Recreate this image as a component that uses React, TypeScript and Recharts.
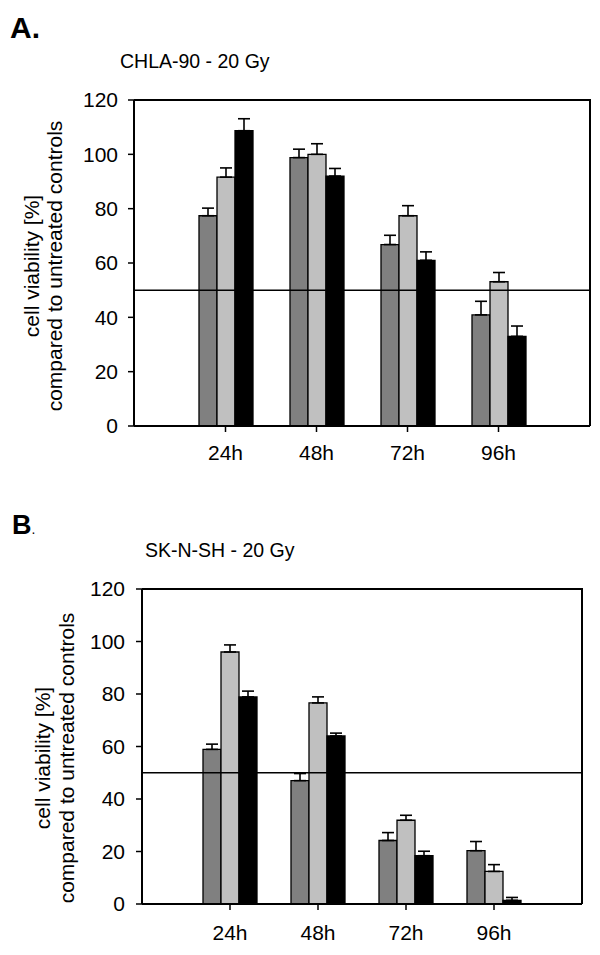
import React from "react";
import { BarChart, Bar, XAxis, YAxis, ErrorBar, ReferenceLine, Label, usePlotArea } from "recharts";

const FONT = '"Liberation Sans", Arial, sans-serif';

const categories = ["24h", "48h", "72h", "96h"];
const yTicks = [0, 20, 40, 60, 80, 100, 120];

// panel A - CHLA-90
const chlaDark = [77.4, 98.8, 66.8, 40.9];
const chlaDarkErr = [2.8, 3.1, 3.4, 5.0];
const chlaLight = [91.6, 100.0, 77.4, 53.1];
const chlaLightErr = [3.4, 3.9, 3.7, 3.4];
const chlaBlack = [108.7, 92.0, 61.0, 33.0];
const chlaBlackErr = [4.4, 2.8, 3.1, 3.8];

// panel B - SK-N-SH
const sknDark = [58.9, 47.0, 24.2, 20.3];
const sknDarkErr = [2.0, 2.7, 3.0, 3.5];
const sknLight = [96.0, 76.6, 31.9, 12.4];
const sknLightErr = [2.7, 2.3, 1.9, 2.6];
const sknBlack = [78.9, 64.0, 18.4, 1.4];
const sknBlackErr = [2.2, 1.1, 1.7, 1.1];

function buildRows(dark: number[], darkErr: number[], light: number[], lightErr: number[], black: number[], blackErr: number[]) {
  return categories.map((time, i) => ({
    time,
    dark: dark[i],
    darkErr: [0, darkErr[i]],
    light: light[i],
    lightErr: [0, lightErr[i]],
    black: black[i],
    blackErr: [0, blackErr[i]],
  }));
}

const rowsA = buildRows(chlaDark, chlaDarkErr, chlaLight, chlaLightErr, chlaBlack, chlaBlackErr);
const rowsB = buildRows(sknDark, sknDarkErr, sknLight, sknLightErr, sknBlack, sknBlackErr);

interface PanelProps {
  data: any[];
  top: number;
  height: number;
  margin: { top: number; right: number; bottom: number; left: number };
  pad: number;
  tickMarginX: number;
  tickMarginY: number;
  labelX1: number;
  labelX2: number;
  labelCY: number;
}

function YLabel({ x1, x2, cy }: { x1: number; x2: number; cy: number }) {
  const style = { fontFamily: FONT, fontSize: 21, fill: "#000" };
  return (
    <g>
      <text x={x1} y={cy} transform={`rotate(-90 ${x1} ${cy})`} textAnchor="middle" style={style}>
        cell viability [%]
      </text>
      <text x={x2} y={cy} transform={`rotate(-90 ${x2} ${cy})`} textAnchor="middle" style={style}>
        compared to untreated controls
      </text>
    </g>
  );
}

// top and right edges of the plot frame
function Frame() {
  const area = usePlotArea();
  if (!area) return null;
  const { x, y, width, height } = area;
  return (
    <path
      d={`M${x},${y} L${x + width},${y} L${x + width},${y + height}`}
      fill="none"
      stroke="#000"
      strokeWidth={2}
    />
  );
}

function Panel({ data, top, height, margin, pad, tickMarginX, tickMarginY, labelX1, labelX2, labelCY }: PanelProps) {
  const tick = { fill: "#000", fontSize: 21, fontFamily: FONT };
  const line = { stroke: "#000", strokeWidth: 2 };
  return (
    <div style={{ position: "absolute", left: 0, top }}>
      <BarChart width={600} height={height} data={data} margin={margin} barGap={0}>
        <XAxis
          dataKey="time"
          interval={0}
          height={40}
          padding={{ left: pad, right: pad }}
          tick={tick}
          tickSize={6}
          tickMargin={tickMarginX}
          tickLine={{ stroke: "#000", strokeWidth: 1.5 }}
          axisLine={line}
        />
        <YAxis
          domain={[0, 120]}
          ticks={yTicks}
          width={60}
          tick={tick}
          tickSize={6}
          tickMargin={tickMarginY}
          tickLine={{ stroke: "#000", strokeWidth: 1.5 }}
          axisLine={line}
        >
          <Label content={() => <YLabel x1={labelX1} x2={labelX2} cy={labelCY} />} />
        </YAxis>
        <Bar dataKey="dark" fill="#808080" stroke="#000" strokeWidth={1.3} barSize={18} isAnimationActive={false}>
          <ErrorBar dataKey="darkErr" direction="y" width={6} stroke="#000" strokeWidth={1.6} />
        </Bar>
        <Bar dataKey="light" fill="#C0C0C0" stroke="#000" strokeWidth={1.3} barSize={18} isAnimationActive={false}>
          <ErrorBar dataKey="lightErr" direction="y" width={6} stroke="#000" strokeWidth={1.6} />
        </Bar>
        <Bar dataKey="black" fill="#000" stroke="#000" strokeWidth={1.3} barSize={18} isAnimationActive={false}>
          <ErrorBar dataKey="blackErr" direction="y" width={6} stroke="#000" strokeWidth={1.6} />
        </Bar>
        <ReferenceLine y={50} stroke="#000" strokeWidth={1.5} />
        <ReferenceLine y={120} stroke="#000" strokeWidth={2} />
        <Frame />
      </BarChart>
    </div>
  );
}

export default function App() {
  return (
    <div style={{ position: "absolute", left: 0, top: 0, width: 600, height: 955, background: "#fff", fontFamily: FONT }}>
      <div style={{ position: "absolute", left: 10, top: 13, fontSize: 30, fontWeight: "bold", lineHeight: 1 }}>A.</div>
      <div style={{ position: "absolute", left: 120, top: 52, fontSize: 19.5, lineHeight: 1 }}>CHLA-90 - 20 Gy</div>
      <Panel
        data={rowsA}
        top={0}
        height={470}
        margin={{ top: 100, right: 10, bottom: 4, left: 74 }}
        pad={46}
        tickMarginX={13}
        tickMarginY={10}
        labelX1={39}
        labelX2={62}
        labelCY={266}
      />
      <div style={{ position: "absolute", left: 12, top: 512, fontSize: 27, fontWeight: "bold", lineHeight: 1 }}>
        B<span style={{ fontSize: 14, fontWeight: "normal" }}>.</span>
      </div>
      <div style={{ position: "absolute", left: 145, top: 541, fontSize: 19.5, lineHeight: 1 }}>SK-N-SH - 20 Gy</div>
      <Panel
        data={rowsB}
        top={480}
        height={475}
        margin={{ top: 109, right: 18, bottom: 11, left: 82 }}
        pad={44}
        tickMarginX={15}
        tickMarginY={11}
        labelX1={50}
        labelX2={74}
        labelCY={278}
      />
    </div>
  );
}
